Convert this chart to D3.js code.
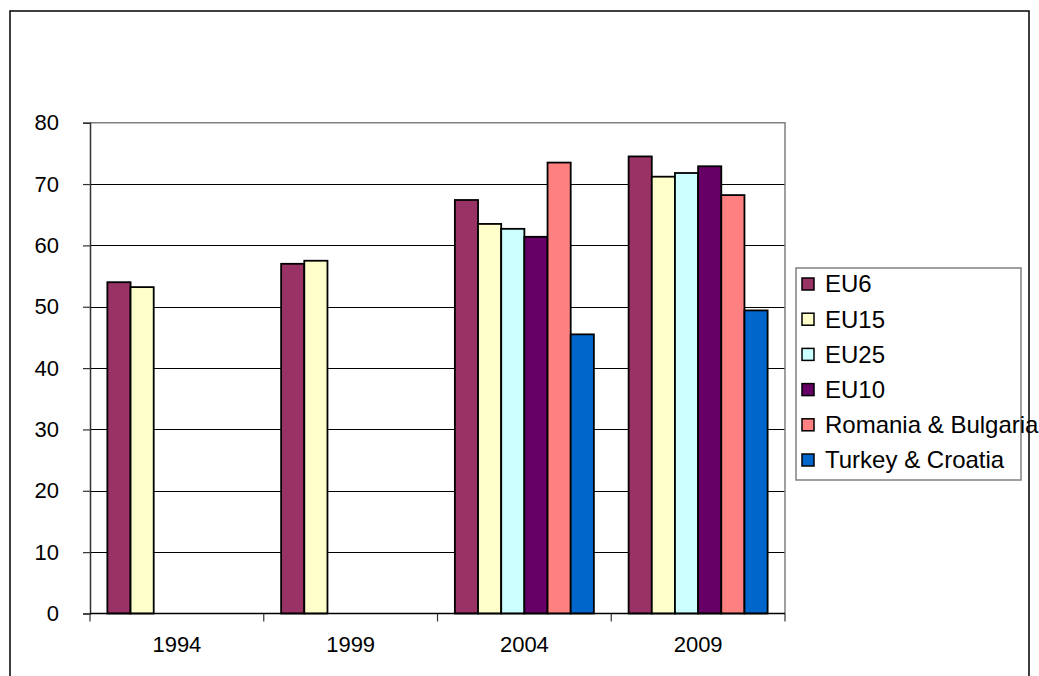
<!DOCTYPE html>
<html>
<head>
<meta charset="utf-8">
<script src="https://cdn.jsdelivr.net/npm/d3@7"></script>
<style>
  html, body { margin: 0; padding: 0; background: #fff; }
  svg { display: block; font-family: "Liberation Sans", Arial, sans-serif; }
</style>
</head>
<body>
<svg id="chart" width="1039" height="676"></svg>
<script>
// ---- data ----
const categories = ["1994", "1999", "2004", "2009"];
const seriesNames = ["EU6", "EU15", "EU25", "EU10", "Romania & Bulgaria", "Turkey & Croatia"];
const eu6Values = [54.0, 57.0, 67.4, 74.5];
const eu15Values = [53.2, 57.5, 63.5, 71.2];
const eu25Values = [null, null, 62.7, 71.8];
const eu10Values = [null, null, 61.4, 72.9];
const romBulValues = [null, null, 73.5, 68.2];
const turCroValues = [null, null, 45.5, 49.4];
const yTickValues = [0, 10, 20, 30, 40, 50, 60, 70, 80];
const seriesColors = ["#993366", "#FFFFCC", "#CCFFFF", "#660066", "#FF8080", "#0066CC"];

const seriesValues = [eu6Values, eu15Values, eu25Values, eu10Values, romBulValues, turCroValues];

const svg = d3.select("#chart");
const plot = { left: 90, right: 785, top: 122.7, bottom: 613.5 };

// outer frame
svg.append("rect")
  .attr("x", 10).attr("y", 11).attr("width", 1019).attr("height", 720)
  .attr("fill", "none").attr("stroke", "#000").attr("stroke-width", 1.5);

const x = d3.scaleBand().domain(categories).range([plot.left, plot.right]).paddingInner(0).paddingOuter(0);
const xs = d3.scaleBand().domain(seriesNames).range([0, x.bandwidth()]).paddingInner(0).paddingOuter(0.75);
const y = d3.scaleLinear().domain([0, 80]).range([plot.bottom, plot.top]);

// gridlines
svg.append("g").selectAll("line")
  .data(yTickValues.filter(v => v > 0 && v < 80))
  .join("line")
  .attr("x1", plot.left).attr("x2", plot.right)
  .attr("y1", d => Math.round(y(d)) + 0.5).attr("y2", d => Math.round(y(d)) + 0.5)
  .attr("stroke", "#000").attr("stroke-width", 1);

// plot border top/right (gray)
svg.append("path")
  .attr("d", `M${plot.left},${y(80)}H${plot.right}V${plot.bottom}`)
  .attr("fill", "none").attr("stroke", "#808080").attr("stroke-width", 1.5);

// bars
const barData = [];
seriesNames.forEach((s, si) => {
  categories.forEach((c, ci) => {
    const v = seriesValues[si][ci];
    if (v != null) barData.push({ s, c, v, color: seriesColors[si] });
  });
});
svg.append("g").selectAll("rect")
  .data(barData)
  .join("rect")
  .attr("x", d => x(d.c) + xs(d.s))
  .attr("y", d => y(d.v))
  .attr("width", xs.bandwidth())
  .attr("height", d => y(0) - y(d.v))
  .attr("fill", d => d.color)
  .attr("stroke", "#000").attr("stroke-width", 1.8);

// y axis
const yAxis = svg.append("g")
  .attr("transform", `translate(${plot.left},0)`)
  .call(d3.axisLeft(y).tickValues(yTickValues).tickSize(7).tickPadding(24).tickFormat(d3.format("d")));
yAxis.select(".domain").attr("stroke", "#333").attr("stroke-width", 1.5);
yAxis.selectAll(".tick line").attr("stroke", "#333").attr("stroke-width", 1.2);
yAxis.selectAll("text").attr("font-size", 22).attr("fill", "#000")
  .attr("font-family", "Liberation Sans, Arial, sans-serif");

// x axis
const xAxis = svg.append("g")
  .attr("transform", `translate(0,${plot.bottom})`)
  .call(d3.axisBottom(x).tickSize(0).tickPadding(23));
xAxis.select(".domain").remove();
xAxis.selectAll("text").attr("font-size", 22).attr("fill", "#000")
  .attr("font-family", "Liberation Sans, Arial, sans-serif");
const boundaries = categories.map(c => x(c)).concat([x(categories[categories.length - 1]) + x.bandwidth()]);
xAxis.selectAll(".bound").data(boundaries).join("line")
  .attr("class", "bound")
  .attr("x1", d => d).attr("x2", d => d).attr("y1", 0).attr("y2", 8)
  .attr("stroke", "#333").attr("stroke-width", 1.2);
xAxis.append("line").attr("x1", plot.left).attr("x2", plot.right).attr("y1", 0).attr("y2", 0)
  .attr("stroke", "#000").attr("stroke-width", 1.5);

// legend
const legend = svg.append("g");
legend.append("rect")
  .attr("x", 796).attr("y", 268).attr("width", 225).attr("height", 212)
  .attr("fill", "#fff").attr("stroke", "#808080").attr("stroke-width", 1.5);
const items = legend.selectAll(".item").data(seriesNames).join("g")
  .attr("class", "item")
  .attr("transform", (d, i) => `translate(0,${284 + i * 35.2})`);
items.append("rect")
  .attr("x", 802).attr("y", -6).attr("width", 12).attr("height", 12)
  .attr("fill", (d, i) => seriesColors[i]).attr("stroke", "#000").attr("stroke-width", 1.5);
items.append("text")
  .attr("x", 825).attr("y", 0).attr("dy", "0.35em")
  .attr("font-size", 24).attr("fill", "#000")
  .text(d => d);
</script>
</body>
</html>
